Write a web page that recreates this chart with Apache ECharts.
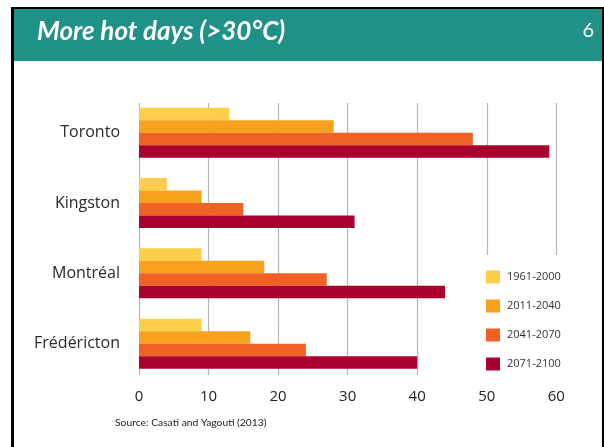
<!DOCTYPE html>
<html>
<head>
<meta charset="utf-8">
<script src="https://cdn.jsdelivr.net/npm/echarts@6/dist/echarts.min.js"></script>
<style>
html,body{margin:0;padding:0;background:#fff;}
#c{width:604px;height:447px;}
</style>
</head>
<body>
<div id="c"></div>
<script>
// Data
const cities = ['Toronto', 'Kingston', 'Montréal', 'Frédéricton'];
const periods = ['1961-2000', '2011-2040', '2041-2070', '2071-2100'];
const p1961_2000 = [13, 4, 9, 9];
const p2011_2040 = [28, 9, 18, 16];
const p2041_2070 = [48, 15, 27, 24];
const p2071_2100 = [59, 31, 44, 40];
const xTicks = [0, 10, 20, 30, 40, 50, 60];
const titleText = 'More hot days (>30°C)';
const slideNumber = '6';
const sourceText = 'Source: Casati and Yagouti (2013)';

const colors = ['#FECE4A', '#F7A11C', '#F06124', '#A90230'];
const seriesValues = [p1961_2000, p2011_2040, p2041_2070, p2071_2100];

const chart = echarts.init(document.getElementById('c'), null, {renderer: 'canvas'});

const option = {
  backgroundColor: '#fff',
  animation: false,
  graphic: [
    {type: 'rect', shape: {x: 11, y: 7, width: 593, height: 445}, style: {fill: '#000'}, z: -10, silent: true},
    {type: 'rect', shape: {x: 14, y: 9, width: 588, height: 445}, style: {fill: '#fff'}, z: -9, silent: true},
    {type: 'rect', shape: {x: 14, y: 9, width: 588, height: 52}, style: {fill: '#1F9186'}, z: -8, silent: true},
    {type: 'text', x: 37, y: 32, z: 10, silent: true,
      style: {text: titleText, fill: '#fff', fontStyle: 'italic', fontWeight: 'bold', fontSize: 26, fontFamily: 'Lato', verticalAlign: 'middle'}},
    {type: 'text', x: 594, y: 31, z: 10, silent: true,
      style: {text: slideNumber, fill: '#fff', fontStyle: 'normal', fontWeight: 'normal', fontSize: 20, fontFamily: 'Lato', align: 'right', verticalAlign: 'middle'}},
    {type: 'text', x: 115, y: 423, z: 10, silent: true,
      style: {text: sourceText, fill: '#222', fontStyle: 'normal', fontSize: 10.3, fontFamily: 'Lato', verticalAlign: 'middle'}}
  ],
  legend: {
    data: periods,
    orient: 'vertical',
    left: 476,
    top: 255,
    padding: [15.5, 12, 12, 10],
    backgroundColor: '#fff',
    itemWidth: 14,
    itemHeight: 13,
    itemGap: 16,
    icon: 'rect',
    textStyle: {fontSize: 11, color: '#333', fontFamily: 'Open Sans', padding: [0, 0, 0, 2]},
    z: 5
  },
  grid: [
    {left: 139, right: 47.7, top: 103, bottom: 72},
    {left: 139, right: 47.7, top: 97.5, bottom: 68.2}
  ],
  xAxis: [
    {
      gridIndex: 0, type: 'value', min: xTicks[0], max: xTicks[xTicks.length - 1], interval: 10,
      axisLine: {show: false}, axisTick: {show: false},
      splitLine: {show: true, lineStyle: {color: '#b5b5b5', width: 1.2}},
      axisLabel: {fontSize: 15, color: '#222', fontFamily: 'Open Sans', margin: 14}
    },
    {
      gridIndex: 1, type: 'value', min: xTicks[0], max: xTicks[xTicks.length - 1], interval: 10,
      show: false, splitLine: {show: false}
    }
  ],
  yAxis: [
    {gridIndex: 0, type: 'category', data: cities, show: false},
    {
      gridIndex: 1, type: 'category', data: cities, inverse: true,
      axisLine: {show: false}, axisTick: {show: false}, splitLine: {show: false},
      axisLabel: {fontSize: 16, color: '#2a2a2a', fontFamily: 'Open Sans', margin: 19}
    }
  ],
  series: periods.map((p, i) => ({
    name: p,
    type: 'bar',
    xAxisIndex: 1,
    yAxisIndex: 1,
    data: seriesValues[i],
    barWidth: 12.5,
    barGap: '0%',
    itemStyle: {color: colors[i]},
    z: 3
  }))
};

chart.setOption(option);
</script>
</body>
</html>
